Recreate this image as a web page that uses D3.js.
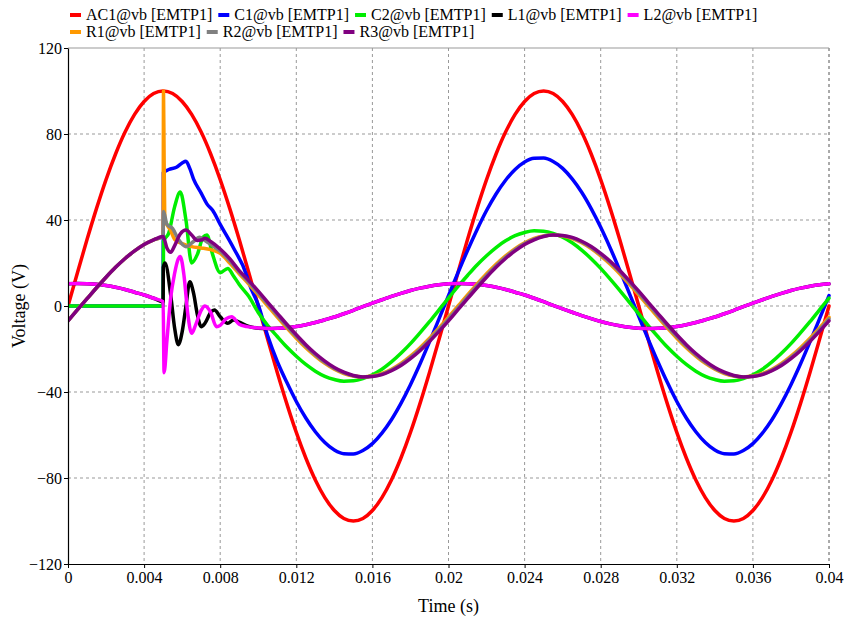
<!DOCTYPE html>
<html><head><meta charset="utf-8">
<script src="https://cdn.jsdelivr.net/npm/d3@7"></script>
<style>
body{margin:0;background:#fff}
svg{display:block;font-family:"Liberation Serif","Times New Roman",serif}
</style>
</head><body>
<svg id="chart" width="844" height="620"></svg>
<script>
// ---------- DATA ----------
const time = [0,0.0005,0.001,0.0015,0.002,0.0025,0.003,0.0035,0.004,0.0045,
  0.005,0.0055,0.006,0.0065,0.007,0.0075,0.008,0.0085,0.009,0.0095,
  0.01,0.0105,0.011,0.0115,0.012,0.0125,0.013,0.0135,0.014,0.0145,
  0.015,0.0155,0.016,0.0165,0.017,0.0175,0.018,0.0185,0.019,0.0195,
  0.02,0.0205,0.021,0.0215,0.022,0.0225,0.023,0.0235,0.024,0.0245,
  0.025,0.0255,0.026,0.0265,0.027,0.0275,0.028,0.0285,0.029,0.0295,
  0.03,0.0305,0.031,0.0315,0.032,0.0325,0.033,0.0335,0.034,0.0345,
  0.035,0.0355,0.036,0.0365,0.037,0.0375,0.038,0.0385,0.039,0.0395,0.04];

const seriesNames = ["AC1@vb [EMTP1]","C1@vb [EMTP1]","C2@vb [EMTP1]","L1@vb [EMTP1]",
  "L2@vb [EMTP1]","R1@vb [EMTP1]","R2@vb [EMTP1]","R3@vb [EMTP1]"];
const seriesColors = ["#ff0000","#0000ff","#00ee00","#000000","#ff00ff","#ff9900","#808080","#800080"];

// values on the time grid (null = covered by the transient detail below)
const ac1 = [0,15.6,30.9,45.4,58.8,70.7,80.9,89.1,95.1,98.8,
  100,98.8,95.1,89.1,80.9,70.7,58.8,45.4,30.9,15.6,0,
  -15.6,-30.9,-45.4,-58.8,-70.7,-80.9,-89.1,-95.1,-98.8,-100,-98.8,-95.1,-89.1,-80.9,-70.7,-58.8,-45.4,-30.9,-15.6,0,
  15.6,30.9,45.4,58.8,70.7,80.9,89.1,95.1,98.8,100,98.8,95.1,89.1,80.9,70.7,58.8,45.4,30.9,15.6,0,
  -15.6,-30.9,-45.4,-58.8,-70.7,-80.9,-89.1,-95.1,-98.8,-100,-98.8,-95.1,-89.1,-80.9,-70.7,-58.8,-45.4,-30.9,-15.6,0];
const c1 = [0,0,0,0,0,0,0,0,0,0,
  null,null,null,null,null,null,null,null,null,
  11,0.5,-14,-25.8,-35.5,-44.4,-52.1,-58.5,-63.5,-67.0,-68.7,-68.8,-67.2,-64.0,-59.1,-52.9,-45.3,-36.6,-27.0,-16.7,-6.0,4.8,
  15.5,25.8,35.5,44.4,52.1,58.5,63.5,67.0,68.7,68.8,67.2,64.0,59.1,52.9,45.3,36.6,27.0,16.7,6.0,-4.8,
  -15.5,-25.8,-35.5,-44.4,-52.1,-58.5,-63.5,-67.0,-68.7,-68.8,-67.2,-64.0,-59.1,-52.9,-45.3,-36.6,-27.0,-16.7,-6.0,4.8];
const c2 = [0,0,0,0,0,0,0,0,0,0,
  null,null,null,null,null,null,null,null,null,null,null,
  -9.1,-14.2,-19.1,-23.4,-27.2,-30.3,-32.7,-34.2,-35.0,-34.8,-33.8,-32.0,-29.4,-26.0,-22.0,-17.5,-12.5,-7.3,-1.8,3.7,
  9.1,14.2,19.1,23.4,27.2,30.3,32.7,34.2,35.0,34.8,33.8,32.0,29.4,26.0,22.0,17.5,12.5,7.3,1.8,-3.7,
  -9.1,-14.2,-19.1,-23.4,-27.2,-30.3,-32.7,-34.2,-35.0,-34.8,-33.8,-32.0,-29.4,-26.0,-22.0,-17.5,-12.5,-7.3,-1.8,3.7];
const l1 = [10.3,10.5,10.4,10.1,9.5,8.7,7.7,6.4,5.1,3.6,
  null,null,null,null,null,null,null,null,null,null,null,
  -10.5,-10.4,-10.1,-9.5,-8.7,-7.7,-6.4,-5.1,-3.6,-2.0,-0.3,1.3,2.9,4.5,5.9,7.2,8.3,9.2,9.9,10.3,
  10.5,10.4,10.1,9.5,8.7,7.7,6.4,5.1,3.6,2.0,0.3,-1.3,-2.9,-4.5,-5.9,-7.2,-8.3,-9.2,-9.9,-10.3,
  -10.5,-10.4,-10.1,-9.5,-8.7,-7.7,-6.4,-5.1,-3.6,-2.0,-0.3,1.3,2.9,4.5,5.9,7.2,8.3,9.2,9.9,10.3];
const l2 = [10.3,10.5,10.4,10.1,9.5,8.7,7.7,6.4,5.1,3.6,
  null,null,null,null,null,null,null,null,null,null,null,
  -10.5,-10.4,-10.1,-9.5,-8.7,-7.7,-6.4,-5.1,-3.6,-2.0,-0.3,1.3,2.9,4.5,5.9,7.2,8.3,9.2,9.9,10.3,
  10.5,10.4,10.1,9.5,8.7,7.7,6.4,5.1,3.6,2.0,0.3,-1.3,-2.9,-4.5,-5.9,-7.2,-8.3,-9.2,-9.9,-10.3,
  -10.5,-10.4,-10.1,-9.5,-8.7,-7.7,-6.4,-5.1,-3.6,-2.0,-0.3,1.3,2.9,4.5,5.9,7.2,8.3,9.2,9.9,10.3];
const r1 = [-6.9,-1.7,3.4,8.5,13.4,18.0,22.1,25.6,28.6,30.8,
  null,null,null,null,null,null,null,null,
  15.0,10.2,5.2,0,-5.2,-10.2,-15.0,-19.4,-23.3,-26.7,-29.4,-31.4,-32.6,-33.0,-32.6,-31.4,-29.4,-26.7,-23.3,-19.4,-15.0,-10.2,-5.2,
  0,5.2,10.2,15.0,19.4,23.3,26.7,29.4,31.4,32.6,33.0,32.6,31.4,29.4,26.7,23.3,19.4,15.0,10.2,5.2,
  0,-5.2,-10.2,-15.0,-19.4,-23.3,-26.7,-29.4,-31.4,-32.6,-33.0,-32.6,-31.4,-29.4,-26.7,-23.3,-19.4,-15.0,-10.2,-5.2];
const r2 = [-6.9,-1.7,3.4,8.5,13.4,18.0,22.1,25.6,28.6,30.8,
  null,null,null,null,null,null,null,null,
  15.8,11.0,6.0,0.9,-4.3,-9.4,-14.2,-18.7,-22.7,-26.2,-29.0,-31.1,-32.5,-33.0,-32.7,-31.7,-29.8,-27.2,-23.9,-20.1,-15.8,-11.0,-6.0,
  -0.9,4.3,9.4,14.2,18.7,22.7,26.2,29.0,31.1,32.5,33.0,32.7,31.7,29.8,27.2,23.9,20.1,15.8,11.0,6.0,
  0.9,-4.3,-9.4,-14.2,-18.7,-22.7,-26.2,-29.0,-31.1,-32.5,-33.0,-32.7,-31.7,-29.8,-27.2,-23.9,-20.1,-15.8,-11.0,-6.0];
const r3 = [-6.9,-1.7,3.4,8.5,13.4,18.0,22.1,25.6,28.6,30.8,
  null,null,null,null,null,null,null,null,
  16.5,11.8,6.9,1.7,-3.4,-8.5,-13.4,-18.0,-22.1,-25.6,-28.6,-30.8,-32.3,-33.0,-32.8,-31.9,-30.1,-27.7,-24.5,-20.8,-16.5,-11.8,-6.9,
  -1.7,3.4,8.5,13.4,18.0,22.1,25.6,28.6,30.8,32.3,33.0,32.8,31.9,30.1,27.7,24.5,20.8,16.5,11.8,6.9,
  1.7,-3.4,-8.5,-13.4,-18.0,-22.1,-25.6,-28.6,-30.8,-32.3,-33.0,-32.8,-31.9,-30.1,-27.7,-24.5,-20.8,-16.5,-11.8,-6.9];

// switching transient detail [time, value]
const ac1Transient = [];
const c1Transient = [[0.005,0],[0.00501,62],[0.0053,63.5],[0.0057,64.5],[0.006,66.5],[0.0062,67.3],[0.0064,64],
  [0.0066,59],[0.007,52.5],[0.0073,47.5],[0.0076,44.5],[0.008,38],[0.0087,27],[0.0094,14]];
const c2Transient = [[0.005,0],[0.00502,30],[0.0053,34],[0.0056,46],[0.0059,53],[0.0062,40],[0.0065,20],
  [0.0068,24],[0.0071,32],[0.0073,33],[0.0076,24],[0.008,15.5],[0.0084,17.5],[0.0087,14],[0.009,10],[0.0095,4.5],[0.01,-3]];
const l1Transient = [[0.005,2.0],[0.00501,18],[0.0051,20],[0.0054,5],[0.0056,-10],[0.0058,-18],[0.006,-12],[0.0062,0],
  [0.0064,11.3],[0.0066,6],[0.0068,-4],[0.007,-9.6],[0.0072,-8],[0.0075,-3],[0.0077,-1.9],[0.008,-5],[0.0084,-8],
  [0.0087,-6.5],[0.009,-7.5],[0.0095,-9.5],[0.01,-10.3]];
const l2Transient = [[0.005,2.0],[0.00505,-31],[0.0052,-16],[0.0054,4],[0.0056,15],[0.0058,22],[0.0059,23],[0.0061,14],
  [0.0063,-4],[0.0065,-12.7],[0.0067,-9],[0.007,-2],[0.0072,0],[0.0075,-3],[0.0078,-9.6],[0.008,-9],[0.0083,-6],
  [0.0086,-5],[0.009,-8.5],[0.0094,-9.6],[0.01,-10.2]];
const r1Transient = [[0.005,32.3],[0.00502,100],[0.00505,70],[0.00508,45],[0.0051,40],[0.0054,35],[0.0056,31],
  [0.006,29],[0.0065,27.6],[0.007,27],[0.0075,26.2],[0.008,24.5],[0.0085,20]];
const r2Transient = [[0.005,32.3],[0.00502,44],[0.0052,38],[0.0055,36],[0.0058,31],[0.0062,27.6],[0.0066,30],
  [0.0069,32],[0.0072,30.5],[0.0076,28],[0.008,25.5],[0.0085,21]];
const r3Transient = [[0.005,32.3],[0.0052,27],[0.0054,25],[0.0056,28],[0.0059,33.5],[0.0062,35.3],[0.0065,33],
  [0.0068,30.5],[0.007,30.7],[0.0072,31.5],[0.0075,30],[0.008,26.5],[0.0085,22]];

const xTicks = [0,0.004,0.008,0.012,0.016,0.02,0.024,0.028,0.032,0.036,0.04];
const yTicks = [-120,-80,-40,0,40,80,120];

// ---------- CHART ----------
const gridValues = [ac1,c1,c2,l1,l2,r1,r2,r3];
const transients = [ac1Transient,c1Transient,c2Transient,l1Transient,l2Transient,r1Transient,r2Transient,r3Transient];

function buildPoints(values, transient){
  const pts = [];
  time.forEach((t,i)=>{ if(values[i] !== null) pts.push([t, values[i]]); });
  transient.forEach(p=>pts.push(p));
  pts.sort((a,b)=>a[0]-b[0]);
  return pts;
}

const svg = d3.select("#chart");
const L = 68, R = 829, T = 48, B = 564;
const x = d3.scaleLinear().domain([0,0.04]).range([L,R]);
const y = d3.scaleLinear().domain([-120,120]).range([B,T]);

// grid
const grid = svg.append("g");
grid.selectAll("line.v").data(xTicks.filter(d=>d>0)).join("line")
  .attr("x1",d=>x(d)).attr("x2",d=>x(d)).attr("y1",T).attr("y2",B)
  .attr("stroke",d=>d===0.04?"#555":"#999").attr("stroke-width",1).attr("stroke-dasharray","3,3");
grid.selectAll("line.h").data(yTicks.filter(d=>d>-120 && d<120)).join("line")
  .attr("x1",L).attr("x2",R).attr("y1",d=>y(d)).attr("y2",d=>y(d))
  .attr("stroke","#999").attr("stroke-width",1).attr("stroke-dasharray","3,3");
grid.append("line").attr("x1",L).attr("x2",R).attr("y1",y(120)).attr("y2",y(120))
  .attr("stroke","#999").attr("stroke-width",1);

// clip
svg.append("clipPath").attr("id","clip").append("rect")
  .attr("x",L).attr("y",T-2).attr("width",R-L+2).attr("height",B-T+4);

const line = d3.line().x(d=>x(d[0])).y(d=>y(d[1])).curve(d3.curveMonotoneX);
const plot = svg.append("g").attr("clip-path","url(#clip)");
gridValues.forEach((vals,i)=>{
  plot.append("path").datum(buildPoints(vals, transients[i]))
    .attr("d",line).attr("fill","none")
    .attr("stroke",seriesColors[i]).attr("stroke-width",3.5)
    .attr("stroke-linejoin","round").attr("stroke-linecap","round");
});

// axes
const fmtX = d => d===0 ? "0" : String(+d.toFixed(3));
const fmtY = d => d<0 ? "\u2212"+Math.abs(d) : String(d);
const xAxis = svg.append("g").attr("transform",`translate(0,${B})`)
  .call(d3.axisBottom(x).tickValues(xTicks).tickFormat(fmtX).tickSize(4).tickSizeOuter(0).tickPadding(4));
const yAxis = svg.append("g").attr("transform",`translate(${L},0)`)
  .call(d3.axisLeft(y).tickValues(yTicks).tickFormat(fmtY).tickSize(4).tickSizeOuter(0).tickPadding(2));
[xAxis,yAxis].forEach(a=>{
  a.selectAll("text").attr("font-size",16).attr("fill","#000").attr("font-family",'"Liberation Serif",serif');
  a.selectAll("line").attr("stroke","#000");
  a.select(".domain").attr("stroke","#000").attr("stroke-width",1.2);
});

// axis titles
svg.append("text").attr("x",(L+R)/2).attr("y",612).attr("text-anchor","middle")
  .attr("font-size",18).text("Time (s)");
svg.append("text").attr("transform",`translate(25,${(T+B)/2}) rotate(-90)`).attr("text-anchor","middle")
  .attr("font-size",18).text("Voltage (V)");

// legend
const leg = svg.append("g");
let lx = 70, ly = 15;
seriesNames.forEach((name,i)=>{
  const g = leg.append("g");
  g.append("line").attr("x1",0).attr("x2",11).attr("y1",0).attr("y2",0)
    .attr("stroke",seriesColors[i]).attr("stroke-width",4);
  const t = g.append("text").attr("x",16).attr("y",5).attr("font-size",16).text(name);
  const w = 16 + t.node().getComputedTextLength() + 6;
  if (lx + w > 800) { lx = 70; ly += 17; }
  g.attr("transform",`translate(${lx},${ly})`);
  lx += w;
});
</script>
</body></html>
